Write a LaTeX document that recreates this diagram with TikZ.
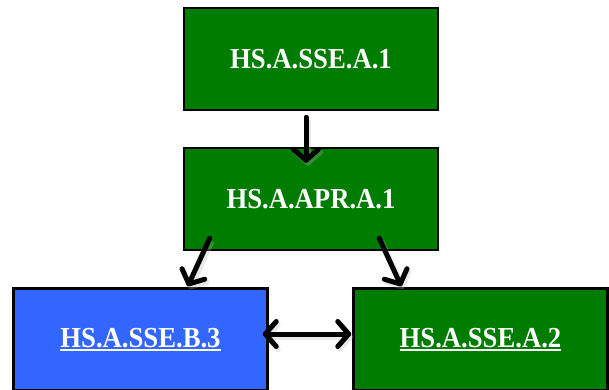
\documentclass[tikz,border=0pt]{standalone}
\usepackage{fontspec}
\newfontfamily\lblfont[FakeStretch=0.92]{Liberation Serif}
\usetikzlibrary{arrows.meta,calc}

\definecolor{stdgreen}{RGB}{0,124,0}
\definecolor{stdblue}{RGB}{51,102,255}

% underline drawn as a rule under the label
\newcommand\ulabel[1]{\setbox0\hbox{#1}\rlap{\rule[-4pt]{\wd0}{2pt}}\box0}

\tikzset{
  stdbox/.style={draw=black, line width=2.5pt, minimum width=254pt, minimum height=102pt,
    inner sep=0pt, text=white, font=\lblfont\bfseries\fontsize{29}{30}\selectfont},
  barb/.tip={Straight Barb[length=11pt, width=25pt, round, line width=5pt]},
  link/.style={line width=5pt, line cap=round, -barb,
    preaction={draw=black!30, opacity=0.3, line width=6pt, transform canvas={shift={(2pt,-3pt)}}}},
  biglink/.style={link, barb-barb}
}

\begin{document}
\begin{tikzpicture}[x=1pt, y=-1pt]
\useasboundingbox (0,0) rectangle (609,389);

\node[stdbox, fill=stdgreen] (sseA1) at (311,59) {HS.A.SSE.A.1};
\node[stdbox, fill=stdgreen] (aprA1) at (311,199) {HS.A.APR.A.1};
\node[stdbox, fill=stdblue]  (sseB3) at (140.5,339.5) {\ulabel{HS.A.SSE.B.3}};
\node[stdbox, fill=stdgreen] (sseA2) at (480.5,339.5) {\ulabel{HS.A.SSE.A.2}};

\draw[link] ($(sseA1.south)+(-5,6)$) -- ($(aprA1.north)+(-5,16)$);
\draw[link] ($(aprA1.south west)+(27,-13)$) -- ($(sseB3.north east)+(-81,-1)$);
\draw[link] ($(aprA1.south east)+(-60,-13)$) -- ($(sseA2.north west)+(49,-1)$);
\draw[biglink] ($(sseB3.east)+(-6,-5.5)$) -- ($(sseA2.west)+(-1,-5.5)$);
\end{tikzpicture}
\end{document}
